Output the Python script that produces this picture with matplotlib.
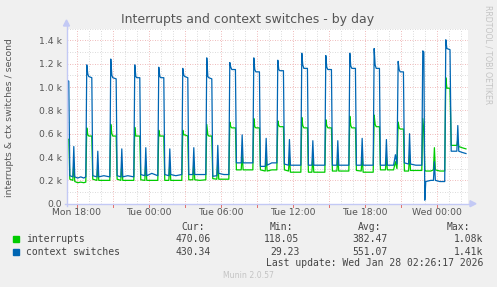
import matplotlib
matplotlib.use("Agg")
import matplotlib.pyplot as plt
from matplotlib.lines import Line2D
import numpy as np

W, H = 497, 287

# ---- data (hours since Mon 00:00, values in thousands per second) ----
hours = [17.15, 17.33, 17.42, 17.67, 17.75, 17.83, 18.08, 18.33, 18.58, 18.75,
         18.83, 18.92, 19.00, 19.25, 19.33, 19.67, 19.75, 19.83, 20.25, 20.75,
         20.83, 20.92, 21.00, 21.28, 21.36, 21.67, 21.75, 21.83, 22.25, 22.75,
         22.83, 22.92, 23.00, 23.25, 23.33, 23.67, 23.75, 23.83, 24.25, 24.75,
         24.83, 24.92, 25.00, 25.25, 25.33, 25.67, 25.75, 25.83, 26.25, 26.75,
         26.83, 26.92, 27.00, 27.25, 27.33, 27.67, 27.75, 27.83, 28.25, 28.75,
         28.83, 28.92, 29.00, 29.25, 29.33, 29.67, 29.75, 29.83, 30.25, 30.67,
         30.75, 30.83, 30.92, 31.22, 31.30, 31.70, 31.78, 31.86, 32.25, 32.67,
         32.75, 32.83, 32.92, 33.22, 33.30, 33.70, 33.78, 33.86, 34.25, 34.67,
         34.75, 34.83, 34.92, 35.22, 35.30, 35.64, 35.72, 35.80, 36.25, 36.67,
         36.75, 36.83, 36.92, 37.22, 37.30, 37.59, 37.67, 37.75, 38.25, 38.67,
         38.75, 38.83, 38.92, 39.22, 39.30, 39.67, 39.75, 39.83, 40.25, 40.67,
         40.75, 40.83, 40.92, 41.22, 41.30, 41.70, 41.78, 41.86, 42.25, 42.70,
         42.78, 42.86, 42.95, 43.22, 43.30, 43.72, 43.80, 43.88, 44.40, 44.55, 44.68,
         44.78, 44.86, 44.95, 45.22, 45.30, 45.65, 45.73, 45.81, 46.25, 46.75,
         46.83, 46.92, 47.00, 47.08, 47.50, 47.72, 47.80, 47.88, 48.25, 48.66,
         48.75, 48.84, 49.10, 49.20, 49.67, 49.75, 49.83, 50.10, 50.43]

context_switches = [1.06, 1.05, 0.24, 0.23, 0.49, 0.23, 0.22, 0.23, 0.22, 0.23,
                    1.19, 1.11, 1.09, 1.08, 0.24, 0.23, 0.45, 0.23, 0.24, 0.23,
                    1.24, 1.10, 1.08, 1.07, 0.24, 0.23, 0.47, 0.23, 0.24, 0.23,
                    1.19, 1.09, 1.08, 1.08, 0.25, 0.24, 0.48, 0.24, 0.26, 0.24,
                    1.17, 1.09, 1.08, 1.08, 0.25, 0.24, 0.47, 0.25, 0.24, 0.25,
                    1.16, 1.10, 1.09, 1.08, 0.25, 0.25, 0.48, 0.25, 0.25, 0.25,
                    1.25, 1.09, 1.08, 1.07, 0.235, 0.24, 0.50, 0.26, 0.25, 0.25,
                    1.21, 1.17, 1.15, 1.15, 0.35, 0.35, 0.59, 0.35, 0.35, 0.35,
                    1.25, 1.15, 1.13, 1.13, 0.32, 0.32, 0.56, 0.33, 0.35, 0.35,
                    1.23, 1.15, 1.14, 1.14, 0.34, 0.33, 0.55, 0.33, 0.33, 0.33,
                    1.29, 1.19, 1.16, 1.16, 0.33, 0.33, 0.54, 0.33, 0.33, 0.33,
                    1.27, 1.17, 1.15, 1.15, 0.33, 0.33, 0.54, 0.33, 0.33, 0.33,
                    1.29, 1.18, 1.16, 1.16, 0.33, 0.33, 0.56, 0.33, 0.33, 0.33,
                    1.33, 1.19, 1.16, 1.16, 0.33, 0.33, 0.55, 0.33, 0.33, 0.42, 0.34,
                    1.22, 1.15, 1.13, 1.13, 0.35, 0.34, 0.60, 0.34, 0.33, 0.33,
                    1.31, 1.30, 0.03, 0.19, 0.20, 0.20, 0.36, 0.20, 0.19, 0.19,
                    1.405, 1.33, 1.32, 0.45, 0.45, 0.67, 0.45, 0.44, 0.43]

interrupts = [0.56, 0.55, 0.21, 0.20, 0.35, 0.19, 0.18, 0.185, 0.18, 0.185,
              0.65, 0.59, 0.58, 0.58, 0.21, 0.20, 0.33, 0.20, 0.20, 0.20,
              0.68, 0.60, 0.58, 0.58, 0.21, 0.20, 0.34, 0.20, 0.20, 0.20,
              0.655, 0.58, 0.58, 0.58, 0.205, 0.20, 0.36, 0.20, 0.20, 0.20,
              0.63, 0.58, 0.58, 0.58, 0.20, 0.20, 0.35, 0.20, 0.20, 0.20,
              0.63, 0.59, 0.59, 0.58, 0.205, 0.205, 0.36, 0.205, 0.20, 0.205,
              0.68, 0.59, 0.58, 0.58, 0.215, 0.21, 0.37, 0.21, 0.21, 0.21,
              0.70, 0.66, 0.65, 0.65, 0.29, 0.29, 0.43, 0.29, 0.29, 0.29,
              0.73, 0.66, 0.65, 0.65, 0.29, 0.28, 0.41, 0.28, 0.29, 0.29,
              0.71, 0.67, 0.66, 0.66, 0.29, 0.28, 0.40, 0.27, 0.27, 0.27,
              0.74, 0.67, 0.65, 0.65, 0.27, 0.27, 0.40, 0.27, 0.27, 0.27,
              0.72, 0.67, 0.65, 0.65, 0.28, 0.28, 0.40, 0.28, 0.28, 0.28,
              0.75, 0.67, 0.65, 0.65, 0.285, 0.28, 0.41, 0.27, 0.27, 0.27,
              0.76, 0.68, 0.66, 0.66, 0.29, 0.29, 0.40, 0.29, 0.29, 0.36, 0.30,
              0.70, 0.65, 0.64, 0.64, 0.28, 0.28, 0.42, 0.285, 0.285, 0.285,
              0.73, 0.62, 0.29, 0.28, 0.28, 0.29, 0.48, 0.29, 0.28, 0.28,
              1.08, 0.99, 0.99, 0.50, 0.50, 0.55, 0.49, 0.48, 0.47]

tick_hours = [18, 24, 30, 36, 42, 48]
tick_labels = ["Mon 18:00", "Tue 00:00", "Tue 06:00", "Tue 12:00", "Tue 18:00", "Wed 00:00"]
ytick_values = [0.0, 0.2, 0.4, 0.6, 0.8, 1.0, 1.2, 1.4]
ytick_labels = ["0.0", "0.2 k", "0.4 k", "0.6 k", "0.8 k", "1.0 k", "1.2 k", "1.4 k"]

series_names = ["interrupts", "context switches"]
series_colors = ["#00CC00", "#0066B3"]
cur_vals = ["470.06", "430.34"]
min_vals = ["118.05", "29.23"]
avg_vals = ["382.47", "551.07"]
max_vals = ["1.08k", "1.41k"]

# ---- layout ----
px_left, px_right, px_top, px_bottom = 66.5, 468.0, 28.7, 203.7
x_start = 18 - (76.8 - px_left) / 12.0
x_end = x_start + (px_right - px_left) / 12.0

fig = plt.figure(figsize=(W / 100, H / 100), dpi=100, facecolor="#F0F0F0")
ax = fig.add_axes([px_left / W, 1 - px_bottom / H,
                   (px_right - px_left) / W, (px_bottom - px_top) / H])
ax.set_facecolor("white")
ax.set_xlim(x_start, x_end)
ax.set_ylim(0, 1.5)
for s in ax.spines.values():
    s.set_visible(False)

grid_red = "#EBA3A3"
grid_gray = "#CFCFCF"
dots = (0, (1, 2))
for h in np.arange(18, 51, 1):
    is_major = (h % 3 == 0)
    ax.axvline(h, color=grid_red if is_major else grid_gray, lw=0.6, ls=dots, zorder=1)
for v in np.arange(0.1, 1.55, 0.1):
    is_major = (round(v * 10) % 2 == 0)
    ax.axhline(v, color=grid_red if is_major else grid_gray, lw=0.6, ls=dots, zorder=1)

ax.plot(hours, interrupts, color=series_colors[0], lw=0.9, zorder=3)
ax.plot(hours, context_switches, color=series_colors[1], lw=0.9, zorder=4)

ax.set_xticks(tick_hours)
ax.set_xticklabels(tick_labels)
ax.set_yticks(ytick_values)
ax.set_yticklabels(ytick_labels)
ax.tick_params(axis="both", length=0, labelsize=6.7, labelcolor="#555555", pad=3)

# axis lines with arrows
axis_col = "#C3C9F5"
def fx(x):
    return x / W
def fy(y):
    return 1 - y / H
fig.add_artist(Line2D([fx(px_left), fx(px_left)], [fy(px_bottom + 2), fy(24)], color=axis_col, lw=1.0))
fig.add_artist(Line2D([fx(px_left - 2), fx(472)], [fy(px_bottom), fy(px_bottom)], color=axis_col, lw=1.0))
fig.add_artist(plt.Polygon([[fx(px_left - 3), fy(26)], [fx(px_left + 3), fy(26)], [fx(px_left), fy(20)]],
                           closed=True, color=axis_col, transform=fig.transFigure))
fig.add_artist(plt.Polygon([[fx(470), fy(px_bottom - 3)], [fx(470), fy(px_bottom + 3)], [fx(476), fy(px_bottom)]],
                           closed=True, color=axis_col, transform=fig.transFigure))
# small ticks at major x grid
for h in np.arange(18, 51, 3):
    xp = px_left + (h - x_start) * 12.0
    fig.add_artist(Line2D([fx(xp), fx(xp)], [fy(px_bottom + 1), fy(px_bottom + 3)], color="#E07070", lw=0.7))

# texts
fig.text(fx(248), fy(19), "Interrupts and context switches - by day", ha="center", va="center",
         fontsize=9.0, color="#555555")
fig.text(fx(10), fy(118), "interrupts & ctx switches / second", rotation=90, ha="center", va="center",
         fontsize=6.7, color="#555555")
fig.text(fx(488), fy(5), "RRDTOOL / TOBI OETIKER", rotation=270, ha="center", va="top",
         fontsize=5.6, color="#C4C4C4")

mono = "DejaVu Sans Mono"
tcol = "#444444"
fs = 7.0
hdr_y = 227.3
for label, xr in [("Cur:", 204.5), ("Min:", 293.5), ("Avg:", 381), ("Max:", 470)]:
    fig.text(fx(xr), fy(hdr_y), label, ha="right", va="center", family=mono, fontsize=fs, color=tcol)
rows_y = [239.3, 251.7]
for i, name in enumerate(series_names):
    y = rows_y[i]
    fig.add_artist(plt.Rectangle((fx(13), fy(y + 3)), 6 / W, 6 / H, color=series_colors[i],
                                 transform=fig.transFigure))
    fig.text(fx(26.5), fy(y), name, ha="left", va="center", family=mono, fontsize=fs, color=tcol)
    fig.text(fx(211), fy(y), cur_vals[i], ha="right", va="center", family=mono, fontsize=fs, color=tcol)
    fig.text(fx(299.5), fy(y), min_vals[i], ha="right", va="center", family=mono, fontsize=fs, color=tcol)
    fig.text(fx(388), fy(y), avg_vals[i], ha="right", va="center", family=mono, fontsize=fs, color=tcol)
    fig.text(fx(483), fy(y), max_vals[i], ha="right", va="center", family=mono, fontsize=fs, color=tcol)
fig.text(fx(483), fy(263.3), "Last update: Wed Jan 28 02:26:17 2026", ha="right", va="center",
         family=mono, fontsize=fs, color=tcol)
fig.text(fx(248.5), fy(276), "Munin 2.0.57", ha="center", va="center", fontsize=5.6, color="#C4C4C4")

fig.savefig("out.png", dpi=100, facecolor=fig.get_facecolor())
